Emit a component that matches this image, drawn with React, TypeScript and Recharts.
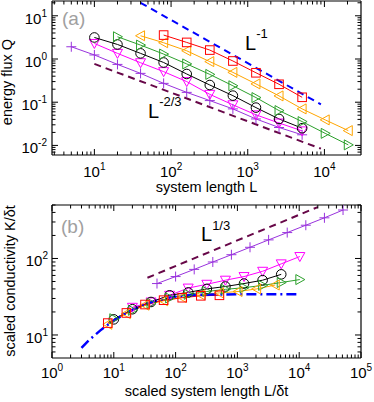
import React from 'react';
import { LineChart, Line, XAxis, YAxis } from 'recharts';

// ---------- panel (a): energy flux Q vs system length L ----------
const aPurpleL = [5, 10, 20, 40, 80, 160, 320, 640, 1280, 2560, 5120];
const aPurpleQ = [1.92, 1.24, 0.75, 0.465, 0.273, 0.169, 0.109, 0.07, 0.041, 0.026, 0.0176];
const aMagentaL = [10, 20, 40, 80, 160, 320, 640, 1280, 2560, 5120];
const aMagentaQ = [2.29, 1.35, 0.82, 0.51, 0.3, 0.152, 0.087, 0.051, 0.033, 0.0217];
const aBlackL = [10, 20, 40, 80, 160, 320, 640, 1280, 2560, 5120];
const aBlackQ = [3.15, 2.17, 1.35, 0.83, 0.45, 0.25, 0.142, 0.075, 0.041, 0.025];
const aGreenL = [20, 40, 80, 160, 320, 640, 1280, 2560, 5120, 10240, 20480];
const aGreenQ = [3.27, 2.1, 1.3, 0.77, 0.44, 0.24, 0.128, 0.064, 0.0356, 0.019, 0.0103];
const aOrangeL = [40, 80, 160, 320, 640, 1280, 2560, 5120, 10240, 20480];
const aOrangeQ = [3.45, 2.38, 1.55, 0.87, 0.49, 0.265, 0.14, 0.07, 0.039, 0.022];
const aRedL = [80, 160, 320, 640, 1280, 2560, 5120];
const aRedQ = [3.58, 2.42, 1.61, 0.9, 0.48, 0.26, 0.13];
const aGuideInvL = [40, 9000];
const aGuideInvQ = [20, 0.089];
const aGuide23L = [10, 9000];
const aGuide23Q = [0.77, 0.0084];

const aXTicks = [3, 4, 5, 6, 7, 8, 9, 10, 20, 30, 40, 50, 60, 70, 80, 90, 100, 200, 300, 400, 500, 600, 700, 800, 900, 1000, 2000, 3000, 4000, 5000, 6000, 7000, 8000, 9000, 10000, 20000];
const aYTicks = [0.007, 0.008, 0.009, 0.01, 0.02, 0.03, 0.04, 0.05, 0.06, 0.07, 0.08, 0.09, 0.1, 0.2, 0.3, 0.4, 0.5, 0.6, 0.7, 0.8, 0.9, 1, 2, 3, 4, 5, 6, 7, 8, 9, 10, 20];

// ---------- panel (b): scaled conductivity vs scaled system length ----------
const bPurpleX = [50, 100, 200, 400, 800, 1600, 3200, 6400, 12800, 25600, 51200];
const bPurpleK = [47, 58, 72, 90, 112, 140, 175, 218, 272, 340, 430];
const bMagentaX = [20, 40, 80, 160, 320, 640, 1280, 2560, 5120, 10240];
const bMagentaK = [23, 27, 33, 41, 46, 52, 58, 68, 85, 106];
const bBlackX = [10, 20, 40, 80, 160, 320, 640, 1280, 2560, 5120];
const bBlackK = [16, 21.7, 27, 33, 36, 40, 43, 47, 52, 62];
const bGreenX = [10, 20, 40, 80, 160, 320, 640, 1280, 2560, 5120, 10240];
const bGreenK = [16.3, 21, 26, 30.5, 34, 37, 39.5, 41.5, 44.5, 48.5, 53];
const bOrangeX = [8, 16, 32, 64, 128, 256, 512, 1024, 2048, 4096];
const bOrangeK = [13.8, 19, 24.5, 28, 31, 33.5, 35.5, 37, 40, 45];
const bRedX = [8, 16, 32, 64, 128, 256, 512];
const bRedK = [14.3, 19.4, 25, 28.5, 30.7, 32.5, 33];
const bTheoryX = [3, 4, 6, 8, 10, 15, 20, 30, 50, 80, 120, 200, 400, 1000, 10000];
const bTheoryK = [6.8, 8.6, 11.4, 13.6, 15.4, 18.8, 21.3, 24.6, 28.3, 30.8, 32.3, 33.3, 33.8, 34, 34];
const bGuide13X = [35, 20000];
const bGuide13K = [56, 470];

const bXTicks = [1, 2, 3, 4, 5, 6, 7, 8, 9, 10, 20, 30, 40, 50, 60, 70, 80, 90, 100, 200, 300, 400, 500, 600, 700, 800, 900, 1000, 2000, 3000, 4000, 5000, 6000, 7000, 8000, 9000, 10000, 20000, 30000, 40000, 50000, 60000, 70000, 80000, 90000, 100000];
const bYTicks = [6, 7, 8, 9, 10, 20, 30, 40, 50, 60, 70, 80, 90, 100, 200, 300, 400, 500];

const C = {
  purple: '#9933dd',
  magenta: '#ff00ff',
  black: '#000000',
  green: '#2ca02c',
  orange: '#ffa500',
  red: '#ff0000',
  blue: '#0000ff',
  maroon: '#670748',
};

const FONT = '"Liberation Sans", Arial, Helvetica, sans-serif';

const pts = (xs: number[], ys: number[]) => xs.map((x, i) => ({ x, y: ys[i] }));

const isMajor = (v: number) => Math.abs(Math.log10(v) - Math.round(Math.log10(v))) < 1e-6;
const expOf = (v: number) => {
  const e = Math.round(Math.log10(v));
  return e < 0 ? '-' + Math.abs(e) : String(e);
};

const MAJ = 6;
const MIN = 3.5;

const xTickFactory = (side: 'bottom' | 'top', labelOffset: number, showLabels: boolean) => (props: any) => {
  const { x, y, payload, index } = props;
  const v = payload.value;
  const major = isMajor(v);
  const len = major ? MAJ : MIN;
  const dir = side === 'bottom' ? -1 : 1;
  return (
    <g key={`xt-${side}-${index}`}>
      <line x1={x} x2={x} y1={y} y2={y + dir * len} stroke="#000" strokeWidth={1} />
      {showLabels && major ? (
        <text x={x} y={y + labelOffset} textAnchor="middle" fontFamily={FONT} fontSize={15} fill="#000">
          <tspan>10</tspan>
          <tspan dy={-7} fontSize={10}>{expOf(v)}</tspan>
        </text>
      ) : null}
    </g>
  );
};

const yTickFactory = (side: 'left' | 'right', labelX: number, showLabels: boolean) => (props: any) => {
  const { x, y, payload, index } = props;
  const v = payload.value;
  const major = isMajor(v);
  const len = major ? MAJ : MIN;
  const dir = side === 'left' ? 1 : -1;
  return (
    <g key={`yt-${side}-${index}`}>
      <line x1={x} x2={x + dir * len} y1={y} y2={y} stroke="#000" strokeWidth={1} />
      {showLabels && major ? (
        <text x={labelX} y={y + 8} textAnchor="end" fontFamily={FONT} fontSize={15} fill="#000">
          <tspan>10</tspan>
          <tspan dy={-7} fontSize={10}>{expOf(v)}</tspan>
        </text>
      ) : null}
    </g>
  );
};

type Kind = 'circle' | 'square' | 'down' | 'right' | 'left' | 'plus';
const marker = (kind: Kind, color: string) => (props: any) => {
  const { cx, cy, index } = props;
  const k = `m-${kind}-${index}`;
  if (cx == null || cy == null) return <g key={k} />;
  const common = { fill: 'none', stroke: color, strokeWidth: 1 };
  switch (kind) {
    case 'circle':
      return <circle key={k} cx={cx} cy={cy} r={4.8} {...common} />;
    case 'square':
      return <rect key={k} x={cx - 4.3} y={cy - 4.3} width={8.6} height={8.6} {...common} />;
    case 'down':
      return <polygon key={k} points={`${cx - 5},${cy - 4} ${cx + 5},${cy - 4} ${cx},${cy + 5}`} {...common} />;
    case 'right':
      return <polygon key={k} points={`${cx - 4},${cy - 5} ${cx - 4},${cy + 5} ${cx + 5},${cy}`} {...common} />;
    case 'left':
      return <polygon key={k} points={`${cx + 4},${cy - 5} ${cx + 4},${cy + 5} ${cx - 5},${cy}`} {...common} />;
    case 'plus':
    default:
      return <path key={k} d={`M${cx - 5},${cy} H${cx + 5} M${cx},${cy - 5} V${cy + 5}`} {...common} />;
  }
};

const series = (data: any[], color: string, kind: Kind, name: string) => (
  <Line
    key={name}
    xAxisId="b"
    yAxisId="l"
    data={data}
    dataKey="y"
    name={name}
    stroke={color}
    strokeWidth={1}
    dot={marker(kind, color)}
    activeDot={false}
    isAnimationActive={false}
    legendType="none"
  />
);

const guide = (data: any[], color: string, dash: string, name: string, width = 2) => (
  <Line
    key={name}
    xAxisId="b"
    yAxisId="l"
    data={data}
    dataKey="y"
    name={name}
    stroke={color}
    strokeWidth={width}
    strokeDasharray={dash}
    dot={false}
    activeDot={false}
    isAnimationActive={false}
    legendType="none"
  />
);

const axisLine = { stroke: '#000', strokeWidth: 1.2 };

const Axes = (p: { xDomain: [number, number]; yDomain: [number, number]; xTicks: number[]; yTicks: number[]; xLabelOff: number; yLabelX: number; bottomH: number }) => [
  <XAxis key="xb" xAxisId="b" dataKey="x" type="number" scale="log" domain={p.xDomain} allowDataOverflow ticks={p.xTicks} interval={0} tickSize={0} tickMargin={0} height={p.bottomH} orientation="bottom" axisLine={axisLine} tickLine={false} tick={xTickFactory('bottom', p.xLabelOff, true)} />,
  <XAxis key="xt" xAxisId="t" dataKey="x" type="number" scale="log" domain={p.xDomain} allowDataOverflow ticks={p.xTicks} interval={0} tickSize={0} tickMargin={0} height={1} orientation="top" axisLine={axisLine} tickLine={false} tick={xTickFactory('top', 0, false)} />,
  <YAxis key="yl" yAxisId="l" type="number" scale="log" domain={p.yDomain} allowDataOverflow ticks={p.yTicks} interval={0} tickSize={0} tickMargin={0} width={52} orientation="left" axisLine={axisLine} tickLine={false} tick={yTickFactory('left', p.yLabelX, true)} />,
  <YAxis key="yr" yAxisId="r" type="number" scale="log" domain={p.yDomain} allowDataOverflow ticks={p.yTicks} interval={0} tickSize={0} tickMargin={0} width={13} orientation="right" axisLine={axisLine} tickLine={false} tick={yTickFactory('right', 0, false)} />,
];

export default function App() {
  return (
    <div style={{ position: 'absolute', left: 0, top: 0, width: 374, height: 402, background: '#fff' }}>
      <div style={{ position: 'absolute', left: 0, top: 0 }}>
        <LineChart width={374} height={200} margin={{ top: 0, right: 0, bottom: 0, left: 0 }}>
          {Axes({ xDomain: [2.8, 30000], yDomain: [0.006, 22], xTicks: aXTicks, yTicks: aYTicks, xLabelOff: 22, yLabelX: 47, bottomH: 45 })}
          {guide(pts(aGuideInvL, aGuideInvQ), C.blue, '7 5', 'L^-1')}
          {guide(pts(aGuide23L, aGuide23Q), C.maroon, '7 5', 'L^-2/3')}
          {series(pts(aPurpleL, aPurpleQ), C.purple, 'plus', 'purple')}
          {series(pts(aMagentaL, aMagentaQ), C.magenta, 'down', 'magenta')}
          {series(pts(aBlackL, aBlackQ), C.black, 'circle', 'black')}
          {series(pts(aGreenL, aGreenQ), C.green, 'right', 'green')}
          {series(pts(aOrangeL, aOrangeQ), C.orange, 'left', 'orange')}
          {series(pts(aRedL, aRedQ), C.red, 'square', 'red')}
        </LineChart>
      </div>
      <div style={{ position: 'absolute', left: 0, top: 200 }}>
        <LineChart width={374} height={202} margin={{ top: 4, right: 0, bottom: 0, left: 0 }}>
          {Axes({ xDomain: [1, 100000], yDomain: [5, 500], xTicks: bXTicks, yTicks: bYTicks, xLabelOff: 20, yLabelX: 48, bottomH: 44 })}
          {guide(pts(bGuide13X, bGuide13K), C.maroon, '7 5', 'L^1/3')}
          {series(pts(bPurpleX, bPurpleK), C.purple, 'plus', 'purple-b')}
          {series(pts(bMagentaX, bMagentaK), C.magenta, 'down', 'magenta-b')}
          {series(pts(bBlackX, bBlackK), C.black, 'circle', 'black-b')}
          {series(pts(bGreenX, bGreenK), C.green, 'right', 'green-b')}
          {series(pts(bOrangeX, bOrangeK), C.orange, 'left', 'orange-b')}
          {series(pts(bRedX, bRedK), C.red, 'square', 'red-b')}
          {guide(pts(bTheoryX, bTheoryK), C.blue, '10 4 2 4', 'theory', 2.5)}
        </LineChart>
      </div>
      <svg width={374} height={402} style={{ position: 'absolute', left: 0, top: 0, pointerEvents: 'none' }}>
        <g fontFamily={FONT} fill="#000">
          <text x={62} y={25} fontSize={19} fill="#a0a0a0">(a)</text>
          <text x={61} y={233} fontSize={19} fill="#a0a0a0">(b)</text>
          <text x={245} y={50} fontSize={20}>
            <tspan>L</tspan>
            <tspan dy={-12} fontSize={13}>-1</tspan>
          </text>
          <text x={148} y={118} fontSize={20}>
            <tspan>L</tspan>
            <tspan dy={-12} fontSize={13}>-2/3</tspan>
          </text>
          <text x={201} y={241} fontSize={20}>
            <tspan>L</tspan>
            <tspan dy={-11} fontSize={13}>1/3</tspan>
          </text>
          <text transform="translate(12,82) rotate(-90)" textAnchor="middle" fontSize={14.5}>energy flux Q</text>
          <text transform="translate(15,281) rotate(-90)" textAnchor="middle" fontSize={14.5}>scaled conductivity K/δt</text>
          <text x={206.5} y={192} textAnchor="middle" fontSize={14.5}>system length L</text>
          <text x={206.5} y={396} textAnchor="middle" fontSize={14.5}>scaled system length L/δt</text>
        </g>
      </svg>
    </div>
  );
}
